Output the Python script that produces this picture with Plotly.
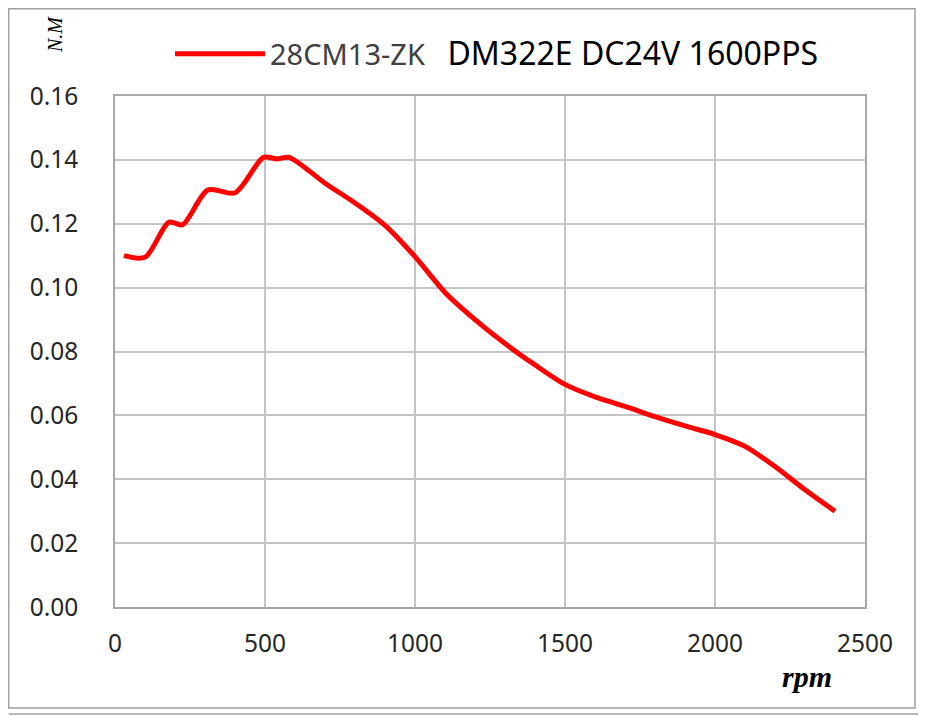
import plotly.graph_objects as go

# torque curve
rpm = [30, 100, 180, 225, 310, 400, 495, 540, 580, 700, 800, 900, 1000, 1100,
       1200, 1300, 1400, 1500, 1600, 1700, 1800, 1900, 2000, 2100, 2200, 2300, 2400]
torque = [0.1100, 0.1095, 0.1205, 0.1197, 0.1306, 0.1297, 0.1408, 0.1403, 0.1408, 0.1327,
          0.1265, 0.1195, 0.1097, 0.0985, 0.0900, 0.0825, 0.0758, 0.0697, 0.0658, 0.0628,
          0.0596, 0.0567, 0.0540, 0.0503, 0.0440, 0.0367, 0.0300]
series_name = ("28CM13-ZK &nbsp;&nbsp;<span style='color:#000000;font-size:32px'>"
               "DM322E DC24V 1600PPS</span>")

# the page body has an 8px margin, so the figure is 8px smaller than the window
OFF = 8
W, H = 926 - OFF, 716 - OFF
L, R, T, B = 115 - OFF, 61, 96 - OFF, 109
pw, ph = W - L - R, H - T - B

# helpers: window pixel -> paper coordinates
def px(x):
    return (x - OFF - L) / pw

def py(y):
    return (H - B - (y - OFF)) / ph

fig = go.Figure()
fig.add_trace(go.Scatter(x=rpm, y=torque, mode='lines', name=series_name,
                         line=dict(color='#ff0000', width=5, shape='spline', smoothing=0.8)))

tick_font = dict(family='Noto Sans', size=24.5, color='#262626')
grid = '#c4c4c4'
fig.update_xaxes(range=[0, 2500], dtick=500, showgrid=True, gridcolor=grid, gridwidth=1.5,
                 showline=True, linecolor='#a8a8a8', linewidth=1.5, mirror=True,
                 zeroline=False, ticks='', tickfont=tick_font, ticklabelstandoff=14)
fig.update_yaxes(range=[0, 0.16], dtick=0.02, tickformat='.2f', showgrid=True, gridcolor=grid,
                 gridwidth=1.5, showline=True, linecolor='#a8a8a8', linewidth=1.5, mirror=True,
                 zeroline=False, ticks='', tickfont=tick_font, ticklabelstandoff=30)

# frame round the whole chart (outer one only shows on the right and bottom)
frame = dict(color='#a0a0a0', width=1.5)
shapes = [
    dict(type='rect', xref='paper', yref='paper', x0=px(8.7), x1=px(915), y0=py(708), y1=py(8.7),
         line=frame, layer='below'),
    dict(type='line', xref='paper', yref='paper', x0=px(920.5), x1=px(920.5), y0=py(714), y1=py(8.7),
         line=frame, layer='below'),
    dict(type='line', xref='paper', yref='paper', x0=px(8.7), x1=px(920.5), y0=py(714), y1=py(714),
         line=frame, layer='below'),
]

fig.update_layout(
    width=W, height=H,
    margin=dict(l=L, r=R, t=T, b=B),
    paper_bgcolor='white', plot_bgcolor='white',
    showlegend=True,
    legend=dict(orientation='h', x=px(170), y=py(54), xanchor='left', yanchor='middle',
                itemwidth=90, font=dict(family='Noto Sans', size=29, color='#404040'),
                bgcolor='rgba(0,0,0,0)'),
    shapes=shapes,
    annotations=[
        dict(text='<i>N.M</i>', x=px(55), y=py(35), xref='paper', yref='paper', showarrow=False,
             xanchor='center', yanchor='middle', textangle=-90,
             font=dict(family='Liberation Serif', size=20, color='#000000')),
        dict(text='<b><i>rpm</i></b>', x=px(807), y=py(676), xref='paper', yref='paper',
             xanchor='center', yanchor='middle', showarrow=False,
             font=dict(family='Liberation Serif', size=30, color='#000000')),
    ],
)

fig.write_html("out.html")
